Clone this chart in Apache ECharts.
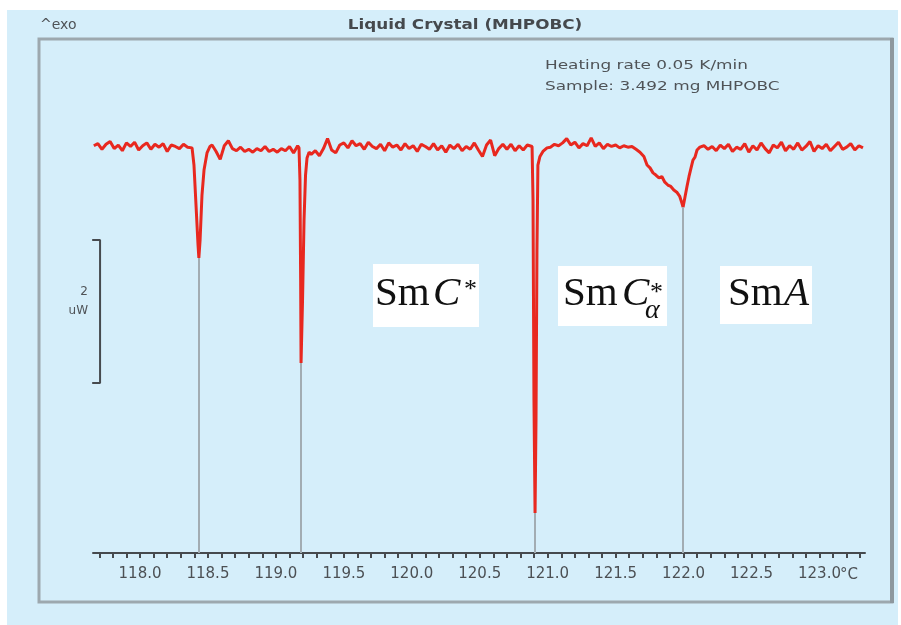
<!DOCTYPE html>
<html>
<head>
<meta charset="utf-8">
<title>Liquid Crystal (MHPOBC) DSC</title>
<script src="https://cdn.jsdelivr.net/npm/echarts@6/dist/echarts.min.js"></script>
<style>
  html, body { margin: 0; padding: 0; background: #fff; }
  #chart { width: 901px; height: 625px; }
</style>
</head>
<body>
<div id="chart"></div>
<script>
// Heat flow (uW, exo up, 0 = baseline) versus temperature (°C)
const baseA = [
  [117.66, 0.02], [117.69, 0.05], [117.72, -0.03], [117.75, 0.04], [117.78, 0.08], [117.81, -0.02],
  [117.84, 0.03], [117.87, -0.05], [117.90, 0.06], [117.93, 0.01], [117.96, 0.07], [117.99, -0.04],
  [118.02, 0.02], [118.05, 0.06], [118.08, -0.03], [118.11, 0.04], [118.14, 0.00], [118.17, 0.05],
  [118.20, -0.06], [118.23, 0.03], [118.26, 0.01], [118.29, -0.02], [118.32, 0.04], [118.35, 0.00]
];
const baseB = [
  [118.53, 0.03], [118.56, -0.06], [118.59, -0.17], [118.62, 0.02], [118.65, 0.09], [118.68, -0.02],
  [118.71, -0.05], [118.74, 0.00], [118.77, -0.06], [118.80, -0.03], [118.83, -0.07], [118.86, -0.02],
  [118.89, -0.05], [118.92, 0.01], [118.95, -0.06], [118.98, -0.03], [119.01, -0.07], [119.04, -0.02],
  [119.07, -0.05], [119.10, 0.01], [119.13, -0.08], [119.16, 0.02]
];
const baseC = [
  [119.26, -0.10], [119.29, -0.05], [119.32, -0.12], [119.35, -0.02], [119.38, 0.12], [119.41, -0.04],
  [119.44, -0.08], [119.47, 0.03], [119.50, 0.06], [119.53, -0.01], [119.56, 0.09], [119.59, 0.02],
  [119.62, 0.05], [119.65, -0.03], [119.68, 0.07], [119.71, 0.01], [119.74, -0.02], [119.77, 0.04],
  [119.80, -0.05], [119.83, 0.06], [119.86, 0.00], [119.89, 0.03], [119.92, -0.04], [119.95, 0.05],
  [119.98, -0.02], [120.01, 0.02], [120.04, -0.06], [120.07, 0.04], [120.10, 0.01], [120.13, -0.03],
  [120.16, 0.05], [120.19, -0.04], [120.22, 0.02], [120.25, -0.07], [120.28, 0.03], [120.31, -0.02],
  [120.34, 0.04], [120.37, -0.05], [120.40, 0.01], [120.43, -0.03], [120.46, 0.06], [120.49, -0.04],
  [120.52, -0.13], [120.55, 0.03], [120.58, 0.10], [120.61, -0.12], [120.64, -0.02], [120.67, 0.04],
  [120.70, -0.03], [120.73, 0.04], [120.76, -0.05], [120.79, 0.02], [120.82, -0.04], [120.85, 0.03]
];
const baseD = [
  [121.02, 0.00], [121.05, 0.04], [121.08, 0.02], [121.11, 0.06], [121.14, 0.12], [121.17, 0.03],
  [121.20, 0.07], [121.23, -0.01], [121.26, 0.05], [121.29, 0.02], [121.32, 0.13], [121.35, 0.01],
  [121.38, 0.06], [121.41, -0.02], [121.44, 0.04], [121.47, 0.01], [121.50, 0.03], [121.53, -0.01],
  [121.56, 0.02], [121.59, 0.00], [121.62, 0.01], [121.65, -0.03]
];
const baseE = [
  [122.15, 0.02], [122.18, -0.03], [122.21, 0.01], [122.24, -0.05], [122.27, 0.03], [122.30, -0.02],
  [122.33, 0.04], [122.36, -0.06], [122.39, 0.00], [122.42, -0.03], [122.45, 0.05], [122.48, -0.07],
  [122.51, 0.02], [122.54, -0.04], [122.57, 0.06], [122.60, -0.02], [122.63, -0.08], [122.66, 0.03],
  [122.69, -0.01], [122.72, 0.07], [122.75, -0.05], [122.78, 0.02], [122.81, -0.03], [122.84, 0.06],
  [122.87, -0.04], [122.90, 0.01], [122.93, 0.08], [122.96, -0.06], [122.99, 0.02], [123.02, -0.02],
  [123.05, 0.04], [123.08, -0.05], [123.11, 0.01], [123.14, 0.07], [123.17, -0.03], [123.20, 0.00],
  [123.23, 0.05], [123.26, -0.04], [123.29, 0.02], [123.32, -0.01]
];

// Transition peaks: temperatures of the minima and their depths
const peakTemps = [118.433, 119.185, 120.907, 121.996];
const peakFlows = [-1.55, -3.02, -5.12, -0.84];

const peak1 = [
  [118.383, -0.01], [118.397, -0.25], [118.412, -0.81], [118.427, -1.37],
  [peakTemps[0], peakFlows[0]],
  [118.442, -1.30], [118.456, -0.67], [118.471, -0.32], [118.493, -0.08], [118.515, 0.01]
];
const peak2 = [
  [119.170, -0.01], [119.177, -0.46], [119.182, -1.86],
  [peakTemps[1], peakFlows[1]],
  [119.196, -2.14], [119.207, -1.02], [119.218, -0.39], [119.229, -0.15], [119.244, -0.07]
];
const peak3 = [
  [120.885, 0.01], [120.892, -0.74], [120.899, -3.54],
  [peakTemps[2], peakFlows[2]],
  [120.914, -3.82], [120.921, -1.44], [120.928, -0.25], [120.943, -0.13], [120.965, -0.06], [120.995, -0.01]
];
const peak4 = [
  [121.679, -0.07], [121.708, -0.13], [121.731, -0.25], [121.753, -0.29], [121.775, -0.36],
  [121.796, -0.39], [121.819, -0.43], [121.840, -0.41], [121.862, -0.49], [121.884, -0.53],
  [121.906, -0.55], [121.928, -0.60], [121.950, -0.63], [121.972, -0.69], [121.987, -0.78],
  [peakTemps[3], peakFlows[3]],
  [122.010, -0.70], [122.025, -0.55], [122.040, -0.41], [122.055, -0.29], [122.069, -0.18],
  [122.084, -0.14], [122.099, -0.04], [122.120, 0.00]
];

// Axis ticks and labels
const minorTicks = [];
for (let k = 1177; k <= 1233; k++) minorTicks.push(k / 10);
const labelTicks = [118.0, 118.5, 119.0, 119.5, 120.0, 120.5, 121.0, 121.5, 122.0, 122.5, 123.0];

// 2 uW scale bar
const scaleBar = { t: 117.706, top: -1.30, bottom: -3.30, tickEnd: 117.648 };

const xMin = 117.654, xMax = 123.335;
const yMin = -5.68, yMax = 1.50;

const trace = [].concat(baseA, peak1, baseB, peak2, baseC, peak3, baseD, peak4, baseE);

const chart = echarts.init(document.getElementById('chart'), null, { renderer: 'canvas' });

const grey = '#4f5357';
const sansFont = 'DejaVu Sans';
const serifFont = 'Liberation Serif';

function txt(x, y, text, opts) {
  return Object.assign({
    type: 'text', x: x, y: y,
    style: Object.assign({ text: text, fill: grey, font: '13px "' + sansFont + '"', align: 'left', verticalAlign: 'middle' }, opts && opts.style || {})
  }, opts && opts.el || {});
}

chart.setOption({
  animation: false,
  backgroundColor: '#ffffff',
  grid: { left: 93, right: 36, top: 40, bottom: 72 },
  xAxis: {
    type: 'value', min: xMin, max: xMax,
    axisLine: { show: true, onZero: false, lineStyle: { color: '#464a4e', width: 2 } },
    axisTick: { show: true, customValues: minorTicks, length: 5, lineStyle: { color: '#464a4e', width: 2 } },
    axisLabel: {
      customValues: labelTicks, margin: 14, color: '#4c5054',
      fontFamily: sansFont, fontSize: 15,
      formatter: v => v.toFixed(1)
    },
    splitLine: { show: false }
  },
  yAxis: { type: 'value', min: yMin, max: yMax, show: false },
  series: [
    {
      name: 'drops', type: 'line', data: [], z: 1, silent: true,
      markLine: {
        symbol: 'none', silent: true, label: { show: false },
        lineStyle: { color: '#a2acb2', width: 2, type: 'solid' },
        data: peakTemps.map((t, i) => [{ coord: [t, peakFlows[i]] }, { coord: [t, yMin] }])
      }
    },
    {
      name: 'scale', type: 'line', z: 2, clip: false, silent: true, showSymbol: false,
      lineStyle: { color: '#464a4e', width: 2 },
      data: [[scaleBar.tickEnd, scaleBar.top], [scaleBar.t, scaleBar.top], [scaleBar.t, scaleBar.bottom], [scaleBar.tickEnd, scaleBar.bottom]]
    },
    {
      name: 'heat flow', type: 'line', z: 3, showSymbol: false, silent: true,
      lineStyle: { color: '#e8281f', width: 3 },
      data: trace
    }
  ],
  graphic: [
    // panel background and frame
    { type: 'rect', z: -10, shape: { x: 7, y: 10, width: 891, height: 615 }, style: { fill: '#d5eefa' } },
    { type: 'rect', shape: { x: 39, y: 39, width: 853, height: 563 }, style: { fill: 'none', stroke: '#9da8ae', lineWidth: 3 } },
    { type: 'line', shape: { x1: 892, y1: 38, x2: 892, y2: 603 }, style: { stroke: '#8e989e', lineWidth: 4 } },
    // header texts
    txt(40, 25, '^exo', { style: { font: '14px "' + sansFont + '"' } }),
    txt(465, 25, 'Liquid Crystal (MHPOBC)', { style: { align: 'center', font: 'bold 14px "' + sansFont + '"', fill: '#45494d' }, el: { scaleX: 1.2 } }),
    txt(545, 66, 'Heating rate 0.05 K/min', { style: { font: '13px "' + sansFont + '"' }, el: { scaleX: 1.3 } }),
    txt(545, 87, 'Sample: 3.492 mg MHPOBC', { style: { font: '13px "' + sansFont + '"' }, el: { scaleX: 1.3 } }),
    txt(840, 575, '°C', { style: { font: '15px "' + sansFont + '"', fill: '#4c5054' } }),
    // scale bar caption
    txt(88, 292, '2', { style: { align: 'right', font: '12px "' + sansFont + '"' } }),
    txt(88, 311, 'uW', { style: { align: 'right', font: '12px "' + sansFont + '"' } }),
    // phase labels
    { type: 'rect', shape: { x: 373, y: 264, width: 106, height: 63 }, style: { fill: '#ffffff' } },
    txt(375, 294, 'Sm', { style: { font: '41px "' + serifFont + '"', fill: '#111' } }),
    txt(433, 294, 'C', { style: { font: 'italic 41px "' + serifFont + '"', fill: '#111' } }),
    txt(464, 290, '*', { style: { font: '26px "' + serifFont + '"', fill: '#111' } }),

    { type: 'rect', shape: { x: 558, y: 266, width: 109, height: 60 }, style: { fill: '#ffffff' } },
    txt(563, 294, 'Sm', { style: { font: '41px "' + serifFont + '"', fill: '#111' } }),
    txt(622, 294, 'C', { style: { font: 'italic 41px "' + serifFont + '"', fill: '#111' } }),
    txt(650, 293, '*', { style: { font: '26px "' + serifFont + '"', fill: '#111' } }),
    txt(645, 311, 'α', { style: { font: 'italic 28px "' + serifFont + '"', fill: '#111' } }),

    { type: 'rect', shape: { x: 720, y: 266, width: 92, height: 58 }, style: { fill: '#ffffff' } },
    txt(728, 294, 'Sm', { style: { font: '41px "' + serifFont + '"', fill: '#111' } }),
    txt(784, 294, 'A', { style: { font: 'italic 41px "' + serifFont + '"', fill: '#111' } })
  ]
});
</script>
</body>
</html>
